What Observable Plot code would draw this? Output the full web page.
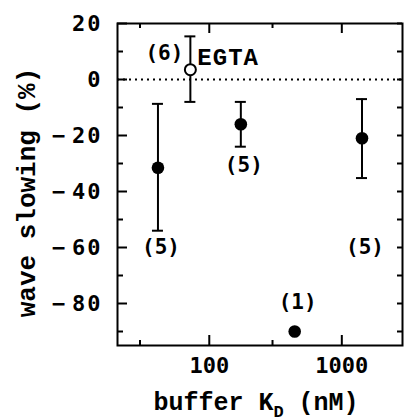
<!DOCTYPE html>
<html>
<head>
<meta charset="utf-8">
<script src="https://cdn.jsdelivr.net/npm/d3@7"></script>
<script src="https://cdn.jsdelivr.net/npm/@observablehq/plot@0.6"></script>
<style>
  html, body { margin: 0; padding: 0; background: #fff; }
  #chart svg { display: block; }
</style>
</head>
<body>
<div id="chart"></div>
<script>
// Data
const kd        = [41, 72, 173, 441, 1420];          // buffer K_D (nM)
const slowing   = [-31.5, 3.5, -16, -90, -21];       // wave slowing (%)
const errLow    = [-54, -8, -24, NaN, -35.2];
const errHigh   = [-8.7, 15.4, -8, NaN, -7];
const openPoint = [false, true, false, false, false];
const nLabel    = ["(5)", "(6)", "(5)", "(1)", "(5)"];
const nLabelY   = [-60, 9.3, -30.7, -79.6, -60];
const bufferName = ["", "EGTA", "", "", ""];

const yMajor = [20, 0, -20, -40, -60, -80];
const yMinor = [10, -10, -30, -50, -70, -90];
const xMajor = [100, 1000];
const xMinor = [30, 300];

const rows = kd.map((k, i) => ({
  kd: k, y: slowing[i], lo: errLow[i], hi: errHigh[i],
  open: openPoint[i], n: nLabel[i], ny: nLabelY[i], name: bufferName[i]
}));

const W = 404, H = 420;
const mL = 117, mT = 23, mR = 2, mB = 75;
const iw = W - mL - mR, ih = H - mT - mB;

const numFont = "DejaVu Sans Mono";
const txtFont = "Liberation Mono";

const plot = Plot.plot({
  width: W, height: H,
  marginLeft: mL, marginTop: mT, marginRight: mR, marginBottom: mB,
  style: { background: "#fff", color: "#000" },
  x: { type: "log", domain: [20.3, 2870] },
  y: { domain: [-95, 20] },
  marks: [
    // zero dotted line
    Plot.ruleY([0], { stroke: "#000", strokeWidth: 2, strokeDasharray: "2,4" }),
    // ticks (inward) left / right
    Plot.ruleY(yMajor, { stroke: "#000", strokeWidth: 2, insetRight: iw - 10 }),
    Plot.ruleY(yMinor, { stroke: "#000", strokeWidth: 2, insetRight: iw - 6 }),
    Plot.ruleY(yMajor.concat(yMinor), { stroke: "#000", strokeWidth: 2, insetLeft: iw - 5 }),
    // ticks bottom / top
    Plot.ruleX(xMajor, { stroke: "#000", strokeWidth: 2, insetTop: ih - 10 }),
    Plot.ruleX(xMinor, { stroke: "#000", strokeWidth: 2, insetTop: ih - 5 }),
    Plot.ruleX(xMajor, { stroke: "#000", strokeWidth: 2, insetBottom: ih - 10 }),
    Plot.ruleX(xMinor, { stroke: "#000", strokeWidth: 2, insetBottom: ih - 5 }),
    // frame
    Plot.frame({ stroke: "#000", strokeWidth: 2 }),
    // tick labels
    Plot.axisY({ ticks: yMajor, tickSize: 0, tickPadding: 15, fontSize: 22, fontWeight: "bold",
      fontFamily: numFont, label: null }),
    Plot.axisX({ ticks: xMajor, tickSize: 0, tickPadding: 12, fontSize: 22, fontWeight: "bold",
      fontFamily: numFont, label: null, tickFormat: d => String(d) }),
    // error bars
    Plot.ruleX(rows, { x: "kd", y1: "lo", y2: "hi", stroke: "#000", strokeWidth: 2 }),
    Plot.ruleY(rows.filter(d => !isNaN(d.lo)), { x1: "kd", x2: "kd", y: "lo", stroke: "#000", strokeWidth: 2, insetLeft: -5.5, insetRight: -5.5 }),
    Plot.ruleY(rows.filter(d => !isNaN(d.hi)), { x1: "kd", x2: "kd", y: "hi", stroke: "#000", strokeWidth: 2, insetLeft: -5.5, insetRight: -5.5 }),
    // points
    Plot.dot(rows.filter(d => !d.open), { x: "kd", y: "y", r: 6.3, fill: "#000", stroke: "none" }),
    Plot.dot(rows.filter(d => d.open), { x: "kd", y: "y", r: 5.5, fill: "#fff", stroke: "#000", strokeWidth: 2 }),
    // n labels
    Plot.text(rows.filter(d => !d.open), { x: "kd", y: "ny", text: "n", dx: 3, fontSize: 21, fontWeight: "bold", fontFamily: numFont }),
    Plot.text(rows.filter(d => d.open), { x: "kd", y: "ny", text: "n", dx: -7, textAnchor: "end", fontSize: 21, fontWeight: "bold", fontFamily: numFont }),
    Plot.text(rows.filter(d => d.name), { x: "kd", y: d => 7.9, text: "name", dx: 7, textAnchor: "start", fontSize: 24, fontWeight: "bold", fontFamily: txtFont }),
    // axis labels
    Plot.text(["wave slowing (%)"], { frameAnchor: "left", textAnchor: "middle", dx: -91, dy: 8, rotate: -90, fontSize: 26, fontWeight: "bold", fontFamily: txtFont }),
    Plot.text(["buffer K"], { frameAnchor: "bottom", textAnchor: "middle", dy: 64, dx: -4, fontSize: 25, fontWeight: "bold", fontFamily: txtFont })
  ]
});

const svg = d3.select(plot);
// wider spacing for the y tick labels, with a longer gap after the minus sign
svg.selectAll('g[aria-label="y-axis tick label"] text').attr("letter-spacing", 2).each(function() {
  const s = this.textContent;
  if (s.startsWith("−") || s.startsWith("-")) {
    const t = d3.select(this);
    t.text(null);
    t.append("tspan").text("−");
    t.append("tspan").attr("dx", 5).text(s.slice(1));
  }
});
svg.selectAll("text").filter(function() { return this.textContent === "EGTA"; }).attr("letter-spacing", 1);
// add subscript D and unit to the x label
svg.selectAll("text").filter(function() { return this.textContent === "buffer K"; }).each(function() {
  const t = d3.select(this);
  t.text(null);
  t.append("tspan").text("buffer K");
  t.append("tspan").attr("dy", 7).attr("font-size", 17).text("D");
  t.append("tspan").attr("dy", -7).text(" (nM)");
});

document.getElementById("chart").appendChild(plot);
</script>
</body>
</html>
